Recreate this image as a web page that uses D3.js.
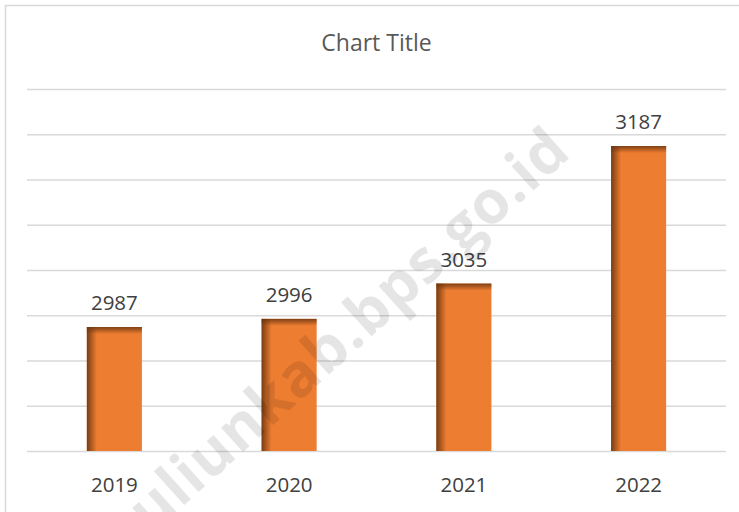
<!DOCTYPE html>
<html>
<head>
<meta charset="utf-8">
<script src="https://cdn.jsdelivr.net/npm/d3@7"></script>
<style>
  body { margin: 0; background: #fff; }
  text { font-family: "Open Sans", "Noto Sans", sans-serif; }
</style>
</head>
<body>
<div id="chart"></div>
<script>
// data
var years = ["2019", "2020", "2021", "2022"];
var values = [2987, 2996, 3035, 3187];
var yTicks = [2850, 2900, 2950, 3000, 3050, 3100, 3150, 3200, 3250];

var W = 739, H = 512;
var margin = {top: 89, right: 13, bottom: 61, left: 27},
    width = W - margin.left - margin.right,
    height = H - margin.top - margin.bottom;

var svg = d3.select("#chart").append("svg")
    .attr("width", W)
    .attr("height", H);

// outer chart border (only top / left show in the crop)
svg.append("rect")
    .attr("x", 5.5).attr("y", 5.5)
    .attr("width", W + 20).attr("height", H + 20)
    .attr("fill", "#fff")
    .attr("stroke", "#d9d9d9")
    .attr("stroke-width", 1.5);

// gradients for the bevel look of the bars
var defs = svg.append("defs");
var gl = defs.append("linearGradient").attr("id", "leftShade")
    .attr("x1", 0).attr("x2", 1).attr("y1", 0).attr("y2", 0);
gl.append("stop").attr("offset", "0%").attr("stop-color", "#6b3510").attr("stop-opacity", 0.9);
gl.append("stop").attr("offset", "100%").attr("stop-color", "#6b3510").attr("stop-opacity", 0);
var gt = defs.append("linearGradient").attr("id", "topShade")
    .attr("x1", 0).attr("x2", 0).attr("y1", 0).attr("y2", 1);
gt.append("stop").attr("offset", "0%").attr("stop-color", "#6b3510").attr("stop-opacity", 0.85);
gt.append("stop").attr("offset", "100%").attr("stop-color", "#6b3510").attr("stop-opacity", 0);

var g = svg.append("g")
    .attr("transform", "translate(" + margin.left + "," + margin.top + ")");

var x = d3.scaleBand()
    .domain(years)
    .range([0, width])
    .paddingInner(0.685)
    .paddingOuter(0.3425);

var y = d3.scaleLinear()
    .domain([2850, 3250])
    .range([height, 0]);

// gridlines
g.append("g")
    .call(d3.axisLeft(y).tickValues(yTicks).tickSize(-width).tickFormat(""))
    .call(function(a) {
        a.select(".domain").remove();
        a.selectAll(".tick line").attr("stroke", "#d9d9d9").attr("stroke-width", 1.5);
    });

// bars
var bar = g.selectAll(".bar")
    .data(years)
    .enter().append("g")
    .attr("class", "bar");

bar.append("rect")
    .attr("x", function(d) { return x(d); })
    .attr("y", function(d, i) { return y(values[i]); })
    .attr("width", x.bandwidth())
    .attr("height", function(d, i) { return height - y(values[i]); })
    .attr("fill", "#ed7d31");

bar.append("rect")
    .attr("x", function(d) { return x(d); })
    .attr("y", function(d, i) { return y(values[i]); })
    .attr("width", 10)
    .attr("height", function(d, i) { return height - y(values[i]); })
    .attr("fill", "url(#leftShade)");

bar.append("rect")
    .attr("x", function(d) { return x(d); })
    .attr("y", function(d, i) { return y(values[i]); })
    .attr("width", x.bandwidth())
    .attr("height", 7)
    .attr("fill", "url(#topShade)");

// data labels
bar.append("text")
    .attr("x", function(d) { return x(d) + x.bandwidth() / 2; })
    .attr("y", function(d, i) { return y(values[i]) - 17; })
    .attr("text-anchor", "middle")
    .attr("font-size", 20.5)
    .attr("fill", "#404040")
    .text(function(d, i) { return values[i]; });

// category axis labels
var xAxis = g.append("g")
    .attr("transform", "translate(0," + height + ")")
    .call(d3.axisBottom(x).tickSize(0).tickPadding(0));
xAxis.select(".domain").remove();
xAxis.selectAll("text")
    .attr("dy", 0)
    .attr("y", 41)
    .attr("font-size", 20.5)
    .attr("font-family", "Open Sans")
    .attr("fill", "#404040");

// title
svg.append("text")
    .attr("x", margin.left + width / 2)
    .attr("y", 51)
    .attr("text-anchor", "middle")
    .attr("font-size", 23)
    .attr("fill", "#595959")
    .text("Chart Title");

// watermark
svg.append("text")
    .attr("transform", "translate(362,345) rotate(-42)")
    .attr("text-anchor", "middle")
    .attr("font-size", 60)
    .attr("font-weight", "bold")
    .attr("letter-spacing", 1)
    .attr("fill", "#000")
    .attr("fill-opacity", 0.1)
    .text("uliunkab.bps.go.id");
</script>
</body>
</html>
